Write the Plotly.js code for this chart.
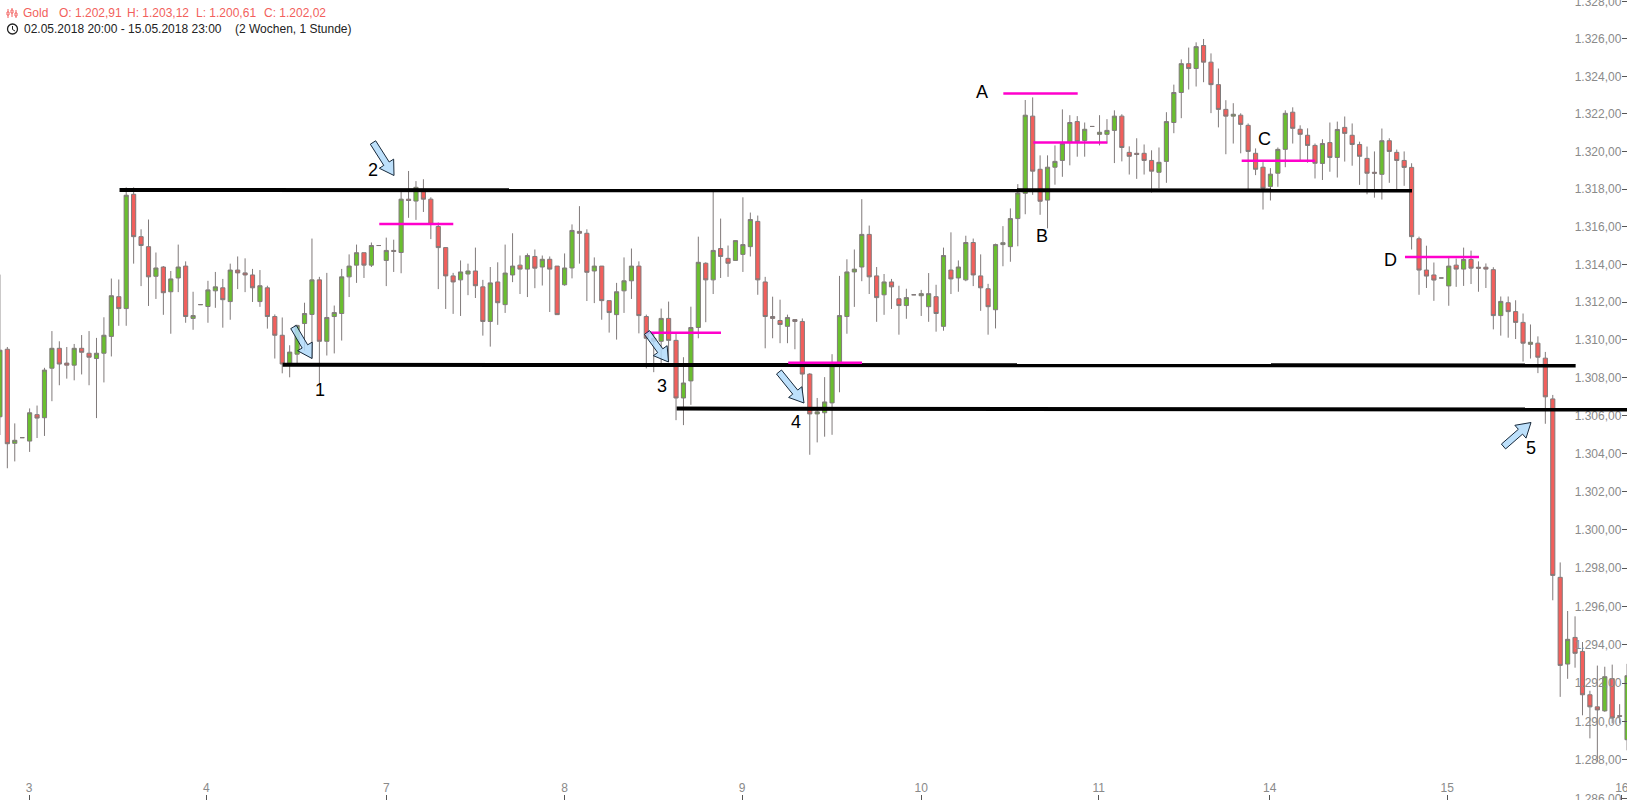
<!DOCTYPE html>
<html>
<head>
<meta charset="utf-8">
<script src="https://cdn.plot.ly/plotly-3.0.1.min.js"></script>
<style>
  html, body { margin: 0; padding: 0; background: #fff; overflow: hidden; }
  #myDiv { width: 1627px; height: 800px; }
</style>
</head>
<body>
<div id="myDiv"></div>
<script>
// hourly gold candles (the price axis is logarithmic)
const opens = [
  1305.95,1309.51,1304.55,1304.85,1304.67,1306.06,1305.90,1308.51,1309.56,1308.78,
  1308.67,1309.56,1309.30,1309.02,1309.30,1310.19,1312.29,1311.66,1317.72,1315.47,
  1314.94,1313.37,1313.86,1312.55,1313.28,1313.91,1311.14,1311.87,1311.77,1312.60,
  1312.76,1312.03,1313.70,1313.55,1313.44,1312.03,1312.76,1311.24,1310.25,1308.78,
  1309.25,1310.87,1311.35,1313.18,1309.93,1311.24,1311.40,1313.34,1313.96,1314.62,
  1313.96,1315.00,1314.21,1314.74,1314.63,1317.46,1317.36,1317.86,1317.46,1316.01,
  1314.89,1313.39,1313.18,1313.49,1313.65,1312.81,1310.98,1313.07,1311.87,1313.44,
  1313.96,1313.75,1314.42,1313.86,1314.27,1313.91,1312.92,1313.81,1315.75,1315.65,
  1313.65,1313.91,1312.08,1311.34,1312.60,1313.13,1313.91,1311.24,1310.09,1309.93,
  1311.14,1309.98,1306.94,1307.84,1310.66,1314.06,1313.18,1314.84,1314.32,1314.21,
  1314.53,1314.94,1316.28,1313.07,1311.24,1311.03,1310.72,1311.08,1310.98,1308.20,
  1306.10,1306.16,1306.68,1308.80,1311.24,1313.60,1313.86,1315.59,1313.39,1312.39,
  1313.07,1312.18,1311.82,1312.39,1312.34,1311.76,1312.29,1310.72,1313.70,1313.28,
  1313.18,1315.16,1313.39,1312.71,1311.60,1315.05,1314.94,1316.43,1317.77,1321.88,
  1319.05,1317.41,1319.16,1319.52,1320.47,1321.59,1320.58,1321.33,1320.91,1320.91,
  1321.12,1321.88,1319.95,1319.90,1319.90,1319.52,1318.89,1319.47,1321.54,1323.14,
  1324.68,1324.42,1325.65,1324.76,1323.56,1322.24,1321.88,1321.93,1321.39,1319.90,
  1319.16,1318.14,1318.84,1320.11,1322.09,1321.18,1320.86,1320.32,1319.36,1320.47,
  1319.68,1321.28,1320.86,1320.37,1319.63,1318.89,1318.78,1320.57,1319.95,1319.52,
  1319.15,1315.36,1313.70,1313.44,1313.28,1312.86,1313.96,1313.75,1314.26,1313.85,
  1313.85,1313.72,1311.29,1311.97,1311.50,1310.93,1309.77,1309.83,1309.04,1306.89,
  1297.52,1292.99,1294.38,1293.65,1291.39,1290.76,1290.55,1292.23,1290.30,1289.05
];
const highs = [
  1313.46,1309.63,1305.60,1304.85,1306.39,1306.54,1308.53,1310.47,1309.93,1309.63,
  1309.79,1310.26,1310.47,1310.11,1311.20,1313.25,1313.20,1318.09,1318.09,1315.86,
  1316.38,1314.63,1313.91,1313.65,1315.05,1314.16,1312.55,1311.87,1313.13,1313.60,
  1313.23,1314.04,1314.42,1314.32,1313.76,1313.70,1312.87,1311.35,1311.19,1309.72,
  1310.80,1311.97,1315.37,1313.34,1313.55,1311.82,1313.76,1314.53,1315.05,1314.62,
  1315.16,1315.00,1315.42,1315.31,1317.99,1318.96,1318.42,1318.52,1317.56,1316.22,
  1314.89,1313.55,1314.21,1314.04,1314.89,1313.18,1313.86,1314.11,1315.05,1315.65,
  1314.47,1314.58,1314.79,1314.47,1314.42,1313.91,1314.58,1316.12,1317.09,1315.86,
  1314.37,1313.91,1312.08,1313.02,1314.37,1314.84,1314.16,1311.34,1310.40,1311.66,
  1312.03,1310.35,1309.09,1311.76,1315.47,1314.11,1317.86,1316.43,1315.00,1315.26,
  1317.56,1316.75,1316.59,1313.34,1312.29,1312.13,1311.34,1311.08,1311.14,1308.25,
  1306.94,1308.04,1309.25,1313.39,1314.27,1314.79,1317.46,1316.06,1313.86,1313.49,
  1313.23,1312.87,1312.71,1312.39,1312.65,1313.54,1312.92,1314.89,1315.70,1314.21,
  1315.52,1315.37,1314.53,1312.97,1315.10,1316.03,1316.97,1318.26,1322.74,1322.88,
  1319.79,1319.79,1320.32,1322.24,1321.93,1321.88,1321.54,1321.33,1321.93,1321.72,
  1322.19,1321.98,1320.27,1320.70,1320.37,1320.06,1320.21,1322.09,1323.56,1324.91,
  1325.54,1325.82,1326.00,1325.23,1324.42,1322.73,1322.57,1322.03,1321.49,1320.16,
  1319.43,1319.11,1320.21,1322.19,1322.35,1321.39,1321.23,1320.42,1320.65,1321.54,
  1321.59,1321.86,1321.49,1320.52,1320.26,1320.00,1321.22,1320.70,1320.10,1320.00,
  1319.37,1315.47,1314.99,1314.10,1313.28,1314.42,1314.31,1314.89,1314.73,1314.16,
  1314.05,1313.85,1312.30,1312.30,1312.10,1311.40,1310.82,1310.19,1309.37,1307.10,
  1298.30,1295.76,1295.48,1294.14,1291.60,1292.91,1292.85,1292.96,1290.90,1293.00
];
const lows = [
  1304.99,1303.24,1303.60,1304.85,1304.10,1304.83,1304.94,1306.77,1307.61,1307.96,
  1307.87,1308.18,1307.61,1305.88,1307.76,1309.13,1310.75,1310.75,1314.04,1312.85,
  1311.80,1312.17,1311.33,1310.33,1312.53,1310.91,1310.54,1311.87,1310.91,1311.70,
  1310.65,1311.07,1312.69,1312.53,1312.01,1311.75,1310.60,1309.02,1308.24,1308.03,
  1308.78,1309.44,1309.02,1307.70,1309.18,1309.29,1309.97,1312.27,1313.02,1313.28,
  1313.86,1315.00,1312.85,1313.60,1313.53,1316.47,1316.36,1316.78,1315.34,1312.69,
  1311.64,1311.38,1311.27,1312.37,1312.22,1310.23,1309.65,1310.80,1311.43,1313.06,
  1312.43,1312.27,1312.74,1312.88,1311.48,1311.34,1312.87,1313.26,1314.04,1312.06,
  1311.95,1311.07,1310.39,1310.02,1311.43,1312.17,1310.35,1308.50,1308.30,1308.78,
  1308.87,1305.77,1305.51,1306.58,1310.09,1310.94,1312.43,1313.28,1313.34,1314.21,
  1313.60,1314.42,1312.39,1309.56,1310.09,1309.83,1309.83,1309.51,1307.20,1303.95,
  1304.60,1304.90,1305.00,1307.24,1310.33,1311.75,1313.11,1312.43,1310.96,1311.33,
  1311.64,1310.28,1311.12,1312.39,1311.27,1310.96,1310.44,1310.49,1312.43,1312.55,
  1313.11,1312.85,1311.54,1310.28,1310.61,1313.90,1314.14,1314.96,1316.66,1317.69,
  1316.63,1315.91,1318.23,1318.65,1319.26,1319.72,1319.72,1321.33,1320.32,1320.42,
  1319.38,1319.47,1318.77,1318.54,1318.77,1317.81,1318.04,1318.33,1320.97,1321.77,
  1323.30,1323.46,1323.69,1322.04,1321.28,1319.85,1320.42,1319.90,1317.99,1318.74,
  1316.91,1317.39,1318.12,1319.16,1320.42,1319.52,1319.40,1318.56,1318.48,1318.92,
  1318.61,1319.46,1319.24,1318.22,1317.72,1317.54,1317.44,1318.33,1317.98,1318.17,
  1314.79,1312.39,1312.75,1312.07,1313.28,1311.81,1312.81,1312.86,1312.96,1312.55,
  1312.75,1310.56,1310.23,1310.12,1310.05,1308.86,1309.02,1308.25,1305.58,1296.32,
  1291.28,1292.22,1292.80,1290.32,1289.12,1287.90,1290.50,1289.90,1289.90,1288.50
];
const closes = [
  1309.46,1304.53,1304.71,1304.85,1306.16,1305.88,1308.41,1309.56,1308.73,1308.67,
  1309.56,1309.35,1309.09,1309.30,1310.25,1312.34,1311.66,1317.67,1315.47,1315.00,
  1313.34,1313.81,1312.50,1313.23,1313.86,1311.24,1311.29,1311.87,1312.65,1312.81,
  1312.13,1313.70,1313.55,1313.44,1312.76,1312.87,1311.24,1310.25,1308.73,1309.36,
  1310.77,1311.40,1313.18,1309.93,1311.19,1311.45,1313.34,1313.91,1314.62,1313.96,
  1315.00,1315.00,1314.74,1314.69,1317.46,1317.39,1318.09,1317.46,1316.12,1314.89,
  1313.39,1313.07,1313.60,1313.65,1312.87,1310.98,1313.02,1311.97,1313.54,1313.91,
  1313.75,1314.47,1313.80,1314.27,1313.75,1311.34,1313.81,1315.80,1315.65,1313.58,
  1313.91,1312.08,1311.45,1312.55,1313.13,1313.91,1311.29,1310.09,1309.93,1311.14,
  1309.98,1306.94,1307.73,1310.66,1314.11,1313.18,1314.74,1314.42,1314.06,1315.26,
  1315.05,1316.38,1313.18,1311.24,1311.14,1310.82,1311.19,1310.98,1308.20,1306.10,
  1306.21,1306.73,1308.80,1311.29,1313.60,1313.75,1315.59,1313.34,1312.24,1313.07,
  1312.81,1311.82,1312.24,1312.39,1312.45,1312.45,1311.40,1314.47,1313.23,1313.86,
  1315.16,1313.44,1312.76,1311.76,1315.05,1315.15,1316.43,1317.79,1321.93,1318.95,
  1317.35,1319.16,1319.47,1320.42,1321.54,1320.52,1321.18,1321.33,1321.02,1321.12,
  1321.88,1320.21,1319.74,1319.84,1319.52,1318.95,1319.42,1321.59,1323.14,1324.68,
  1324.42,1325.59,1324.76,1323.56,1322.24,1321.88,1321.98,1321.44,1320.00,1319.05,
  1318.04,1318.79,1320.11,1322.03,1321.23,1320.91,1320.32,1319.37,1320.42,1319.68,
  1321.17,1320.96,1320.37,1319.74,1318.84,1318.84,1320.57,1320.00,1319.52,1319.15,
  1315.47,1313.70,1313.38,1313.17,1313.28,1313.91,1313.75,1314.26,1313.80,1313.80,
  1313.75,1311.29,1312.04,1311.50,1310.93,1309.83,1309.88,1309.09,1307.00,1297.62,
  1292.92,1294.28,1293.55,1291.39,1290.76,1290.60,1292.33,1290.18,1290.27,1292.38
];

const dayTicks = [3.92, 27.8, 52, 76, 99.9, 124, 147.9, 170.9, 194.8, 218.3];
const dayLabels = ['3', '4', '7', '8', '9', '10', '11', '14', '15', '16'];
const priceTicks = [1286, 1288, 1290, 1292, 1294, 1296, 1298, 1300, 1302, 1304, 1306, 1308,
  1310, 1312, 1314, 1316, 1318, 1320, 1322, 1324, 1326, 1328];

const candleX = opens.map((_, i) => i);

const W = 1627, H = 800;
const GREY = '#807a7a';
const PINK = '#ff00cc';
const RED_TEXT = '#f25f5c';

// pixel position helpers for the drawn-on annotations
const px = x => x / W;
const py = y => 1 - y / H;

function arrow(x0, y0, x1, y1) {
  // block arrow from tail to tip
  let dx = x1 - x0, dy = y1 - y0;
  let len = Math.sqrt(dx * dx + dy * dy);
  let ux = dx / len, uy = dy / len;
  let nx = -uy, ny = ux;
  let head = 14, shaft = 3.2, wing = 8.5;
  let bx = x1 - ux * head, by = y1 - uy * head;
  let pts = [
    [x0 + nx * shaft, y0 + ny * shaft],
    [bx + nx * shaft, by + ny * shaft],
    [bx + nx * wing, by + ny * wing],
    [x1, y1],
    [bx - nx * wing, by - ny * wing],
    [bx - nx * shaft, by - ny * shaft],
    [x0 - nx * shaft, y0 - ny * shaft]
  ];
  let path = 'M ' + pts.map(p => px(p[0]) + ' ' + py(p[1])).join(' L ') + ' Z';
  return {
    type: 'path', xref: 'paper', yref: 'paper', path: path, layer: 'above',
    fillcolor: 'rgba(178,219,250,0.85)',
    line: { color: '#16283a', width: 1 }
  };
}

function level(x0, x1, y0, y1) {
  return { type: 'line', x0: x0, x1: x1, y0: y0, y1: y1, layer: 'above',
    line: { color: '#000000', width: 4 } };
}

function pinkLine(x0, x1, y) {
  return { type: 'line', x0: x0, x1: x1, y0: y, y1: y, layer: 'above',
    line: { color: PINK, width: 2.5 } };
}

function iconLine(x0, y0, x1, y1, color, width) {
  return { type: 'line', xref: 'paper', yref: 'paper',
    x0: px(x0), x1: px(x1), y0: py(y0), y1: py(y1),
    line: { color: color, width: width } };
}

const shapes = [
  level(16.1, 190.05, 1317.95, 1317.92),
  level(38.06, 212.08, 1308.69, 1308.65),
  level(91.09, 219.5, 1306.38, 1306.33),
  pinkLine(51.06, 61.02, 1316.14),
  pinkLine(87.05, 97.05, 1310.38),
  pinkLine(106.1, 116.03, 1308.8),
  pinkLine(135.05, 145.06, 1323.09),
  pinkLine(139.08, 149.04, 1320.47),
  pinkLine(167.13, 177.0, 1319.5),
  pinkLine(189.11, 199.07, 1314.39),
  arrow(293.5, 327, 312, 358.5),
  arrow(373, 142.5, 394, 175.5),
  arrow(647, 332.5, 668.5, 362),
  arrow(779, 372, 804, 403),
  arrow(1503.5, 446.5, 1531, 422.5),
  // small candle icon in the header
  iconLine(8, 9, 8, 18, RED_TEXT, 1),
  iconLine(12, 8, 12, 17, RED_TEXT, 1),
  iconLine(16, 10, 16, 18, RED_TEXT, 1),
  { type: 'rect', xref: 'paper', yref: 'paper', x0: px(7), x1: px(9), y0: py(15), y1: py(12),
    fillcolor: '#ffffff', line: { color: RED_TEXT, width: 1 } },
  { type: 'rect', xref: 'paper', yref: 'paper', x0: px(11), x1: px(13), y0: py(13), y1: py(10),
    fillcolor: '#ffffff', line: { color: RED_TEXT, width: 1 } },
  { type: 'rect', xref: 'paper', yref: 'paper', x0: px(15), x1: px(17), y0: py(16), y1: py(13),
    fillcolor: '#ffffff', line: { color: RED_TEXT, width: 1 } },
  // clock icon
  { type: 'circle', xref: 'paper', yref: 'paper', x0: px(7.5), x1: px(17.5), y0: py(34), y1: py(24),
    line: { color: '#222222', width: 1.3 } },
  iconLine(12.5, 26, 12.5, 29.5, '#222222', 1),
  iconLine(12.5, 29.5, 15, 31, '#222222', 1)
];

function headerText(x, y, text, color) {
  return { xref: 'paper', yref: 'paper', x: px(x), y: py(y), text: text, showarrow: false,
    xanchor: 'left', yanchor: 'middle', align: 'left',
    font: { family: 'Liberation Sans, Arial, sans-serif', size: 12, color: color } };
}

function mark(x, y, text) {
  return { xref: 'paper', yref: 'paper', x: px(x), y: py(y), text: text, showarrow: false,
    xanchor: 'center', yanchor: 'middle',
    font: { family: 'Liberation Sans, Arial, sans-serif', size: 18, color: '#000000' } };
}

const annotations = [
  headerText(21, 13, 'Gold', RED_TEXT),
  headerText(57, 13, 'O: 1.202,91', RED_TEXT),
  headerText(125, 13, 'H: 1.203,12', RED_TEXT),
  headerText(194, 13, 'L: 1.200,61', RED_TEXT),
  headerText(262, 13, 'C: 1.202,02', RED_TEXT),
  headerText(21.5, 29, '02.05.2018 20:00 - 15.05.2018 23:00', '#222222'),
  headerText(232.5, 29, '(2 Wochen, 1 Stunde)', '#222222'),
  mark(320, 390, '1'),
  mark(372.7, 170, '2'),
  mark(662.3, 386, '3'),
  mark(795.5, 422.5, '4'),
  mark(1531, 447.7, '5'),
  mark(981.6, 92.4, 'A'),
  mark(1041.7, 235.6, 'B'),
  mark(1264.3, 139, 'C'),
  mark(1390, 260.3, 'D')
];

const trace1 = {
  type: 'candlestick',
  x: candleX,
  open: opens,
  high: highs,
  low: lows,
  close: closes,
  whiskerwidth: 0,
  increasing: { fillcolor: '#6abf2f', line: { color: GREY, width: 1 } },
  decreasing: { fillcolor: '#f25f5c', line: { color: GREY, width: 1 } },
  hoverinfo: 'skip'
};

const layout = {
  width: W,
  height: H,
  margin: { l: 0, r: 0, t: 0, b: 0, pad: 0 },
  paper_bgcolor: '#ffffff',
  plot_bgcolor: '#ffffff',
  showlegend: false,
  separators: ',.',
  boxgap: 0.2,
  xaxis: {
    type: 'linear',
    range: [0.013, 218.99],
    rangeslider: { visible: false },
    showgrid: false,
    zeroline: false,
    showline: false,
    tickmode: 'array',
    tickvals: dayTicks,
    ticktext: dayLabels,
    ticks: 'inside',
    ticklen: 5,
    tickwidth: 1,
    tickcolor: '#555555',
    ticklabelposition: 'inside',
    ticklabeloverflow: 'allow',
    tickfont: { family: 'Liberation Sans, Arial, sans-serif', size: 12, color: '#8a8a8a' }
  },
  yaxis: {
    type: 'log',
    side: 'right',
    range: [Math.log10(1285.92), Math.log10(1328.086)],
    showgrid: false,
    zeroline: false,
    showline: false,
    tickmode: 'array',
    tickvals: priceTicks,
    tickformat: ',.2f',
    ticks: 'inside',
    ticklen: 5,
    tickwidth: 1,
    tickcolor: '#555555',
    ticklabelposition: 'inside',
    ticklabeloverflow: 'allow',
    tickfont: { family: 'Liberation Sans, Arial, sans-serif', size: 12, color: '#8a8a8a' }
  },
  shapes: shapes,
  annotations: annotations
};

Plotly.newPlot('myDiv', [trace1], layout, { displayModeBar: false, staticPlot: true });
</script>
</body>
</html>
